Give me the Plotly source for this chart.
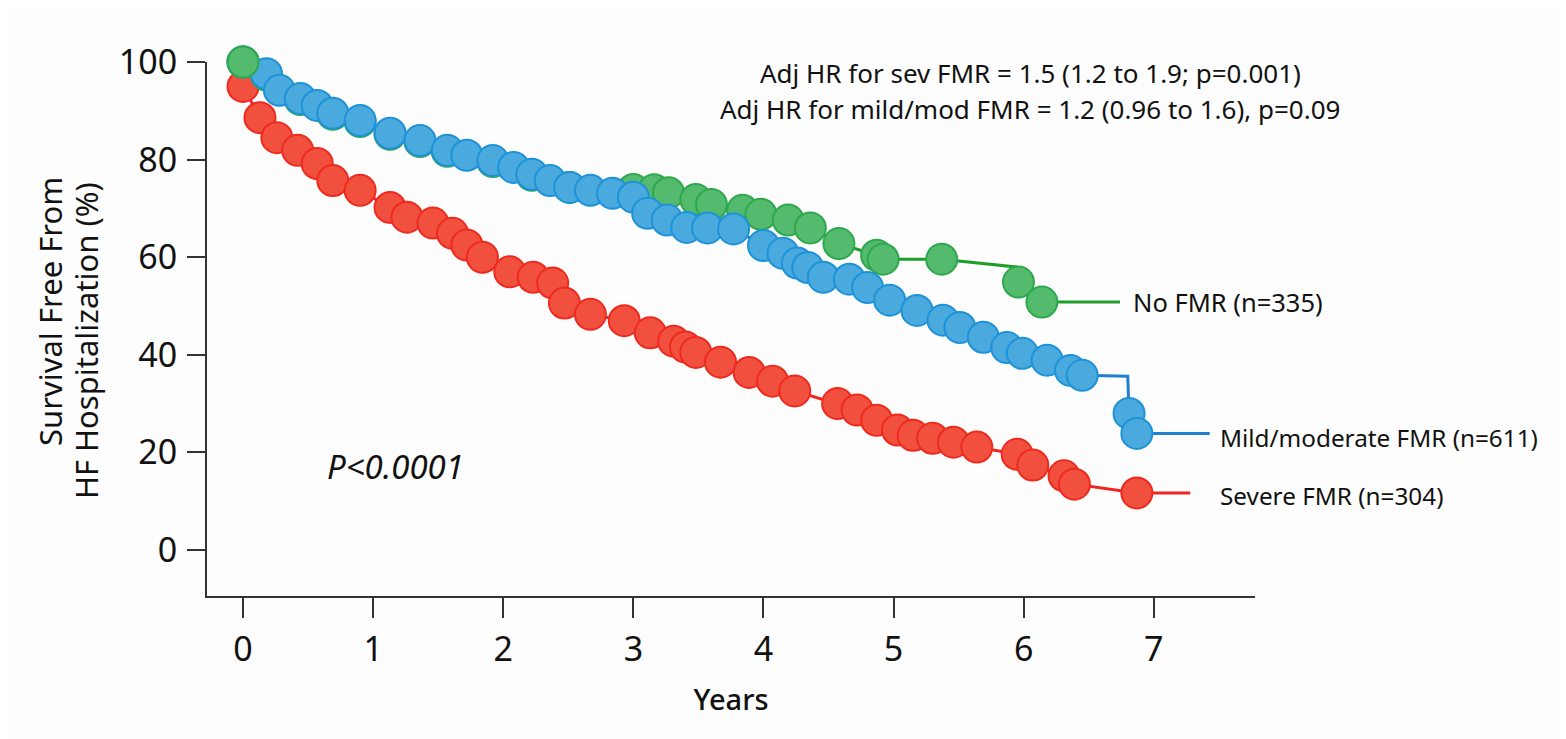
import plotly.graph_objects as go

# ---------------- data ----------------
x_ticks = [0, 1, 2, 3, 4, 5, 6, 7]
y_ticks = [0, 20, 40, 60, 80, 100]

# Severe FMR
sev_years = [0.00, 0.13, 0.26, 0.42, 0.57, 0.69, 0.90, 1.13, 1.26, 1.46, 1.61, 1.72, 1.84, 2.05,
             2.23, 2.38, 2.47, 2.67, 2.93, 3.13, 3.31, 3.40, 3.48, 3.67, 3.89, 4.07, 4.24, 4.57,
             4.72, 4.87, 5.03, 5.15, 5.30, 5.46, 5.64, 5.95, 6.07, 6.31, 6.39, 6.87, 7.28]
sev_surv = [95.0, 88.6, 84.5, 81.9, 79.2, 75.7, 73.7, 70.2, 68.2, 67.0, 64.9, 62.5, 60.0, 57.0,
            55.9, 54.7, 50.6, 48.3, 47.0, 44.5, 42.8, 41.6, 40.5, 38.5, 36.4, 34.6, 32.6, 30.0,
            28.7, 26.6, 24.6, 23.5, 22.9, 22.1, 21.1, 19.6, 17.4, 15.2, 13.5, 11.7, 11.7]
sev_mark = [1] * 40 + [0]

# Mild/moderate FMR
mild_years = [0.00, 0.18, 0.28, 0.44, 0.57, 0.69, 0.90, 1.13, 1.36, 1.57, 1.72, 1.92, 2.08, 2.22,
              2.36, 2.51, 2.67, 2.84, 3.00, 3.11, 3.26, 3.41, 3.57, 3.77, 4.00, 4.15, 4.26, 4.34,
              4.46, 4.66, 4.80, 4.97, 5.18, 5.38, 5.51, 5.69, 5.87, 5.99, 6.18, 6.36, 6.45, 6.80,
              6.81, 6.87, 7.43]
mild_surv = [100.0, 97.6, 94.2, 92.5, 91.1, 89.5, 88.0, 85.4, 83.9, 81.9, 80.9, 79.8, 78.4, 77.0,
             75.7, 74.3, 73.7, 73.1, 72.3, 69.0, 67.6, 66.1, 66.0, 65.8, 62.4, 60.8, 58.8, 57.9,
             55.9, 55.5, 53.8, 51.2, 49.1, 47.1, 45.6, 43.6, 41.5, 40.3, 38.9, 36.8, 35.8, 35.6,
             28.0, 23.9, 23.9]
mild_mark = [1] * 41 + [0, 1, 1, 0]

# No FMR
no_years = [0.00, 0.18, 0.44, 0.69, 0.90, 1.13, 1.36, 1.57, 1.92, 2.22, 2.51, 2.84, 3.00, 3.16,
            3.27, 3.48, 3.60, 3.84, 3.98, 4.19, 4.36, 4.58, 4.87, 4.92, 5.37, 5.94, 5.96, 6.14, 6.74]
no_surv = [100.0, 97.3, 92.3, 89.3, 87.8, 85.2, 83.7, 81.7, 79.6, 76.8, 74.3, 74.0, 73.9, 73.8,
           73.2, 71.8, 70.8, 69.6, 68.8, 67.6, 66.0, 62.8, 60.4, 59.6, 59.6, 58.0, 54.9, 50.8, 50.8]
no_mark = [1] * 11 + [0] + [1] * 13 + [0, 1, 1, 0]

labels = {
    "no": "No FMR (n=335)",
    "mild": "Mild/moderate FMR (n=611)",
    "sev": "Severe FMR (n=304)",
}
hr_lines = [
    "Adj HR for sev FMR = 1.5 (1.2 to 1.9; p=0.001)",
    "Adj HR for mild/mod FMR = 1.2 (0.96 to 1.6), p=0.09",
]
p_text = "P<0.0001"
x_title = "Years"
y_title = ["Survival Free From", "HF Hospitalization (%)"]

# ---------------- styling ----------------
FONT = "Noto Sans"
TXT = "#111111"
MSIZE = 31

styles = {
    "sev": dict(line="#EE2420", fill="#F2503F", edge="#EE2A1E"),
    "mild": dict(line="#1F80D2", fill="#4AAADD", edge="#1E92D8"),
    "no": dict(line="#1E9E28", fill="#54BA6E", edge="#2DA84C"),
}


def km_trace(xs, ys, marks, key, name):
    st = styles[key]
    return go.Scatter(
        x=xs, y=ys, mode="lines+markers", name=name,
        line=dict(color=st["line"], width=3),
        marker=dict(size=[MSIZE if m else 0 for m in marks], color=st["fill"],
                    line=dict(color=st["edge"], width=[2 if m else 0 for m in marks]),
                    opacity=1),
        cliponaxis=False, hoverinfo="skip", showlegend=False,
    )


fig = go.Figure()
fig.add_trace(km_trace(sev_years, sev_surv, sev_mark, "sev", labels["sev"]))
fig.add_trace(km_trace(no_years, no_surv, no_mark, "no", labels["no"]))
fig.add_trace(km_trace(mild_years, mild_surv, mild_mark, "mild", labels["mild"]))
# starting point of No FMR sits on top of the others
fig.add_trace(km_trace(no_years[:1], no_surv[:1], no_mark[:1], "no", labels["no"]))

# ---------------- layout (pixel geometry, page coords) ----------------
W, H = 1566, 739
OFF = 8                      # page body margin before the figure div
L, R, T, B = 207, 1255, 62, 596


def px(xp):
    return (xp - L) / (R - L)


def py(yp):
    return (B - yp) / (B - T)


axis_common = dict(showline=True, linecolor="#333333", linewidth=2, ticks="outside",
                   tickcolor="#333333", tickwidth=2, showgrid=False, zeroline=False,
                   tickfont=dict(family=FONT, size=34, color=TXT))

fig.update_layout(
    width=W - OFF, height=H - OFF,
    margin=dict(l=L - OFF, r=W - R, t=T - OFF, b=H - B),
    paper_bgcolor="#FDFDFD", plot_bgcolor="#FDFDFD",
    xaxis=dict(range=[-0.277, 7.778], tickvals=x_ticks, ticklen=20, ticklabelstandoff=2,
               title=dict(text=x_title, font=dict(family=FONT, size=29, color=TXT,
                                                  weight=500), standoff=20),
               **axis_common),
    yaxis=dict(range=[-9.42, 100], tickvals=y_ticks, ticklen=18, ticklabelstandoff=3,
               **axis_common),
)

ann = []
ann.append(dict(x=px(1030), y=py(73), text=hr_lines[0], xanchor="center", yanchor="middle",
                font=dict(family=FONT, size=26, color=TXT)))
ann.append(dict(x=px(1030), y=py(109), text=hr_lines[1], xanchor="center", yanchor="middle",
                font=dict(family=FONT, size=26, color=TXT)))
ann.append(dict(x=px(1131), y=py(302), text=labels["no"], xanchor="left", yanchor="middle",
                font=dict(family=FONT, size=25.5, color=TXT)))
ann.append(dict(x=px(1218), y=py(437), text=labels["mild"], xanchor="left", yanchor="middle",
                font=dict(family=FONT, size=24.3, color=TXT)))
ann.append(dict(x=px(1218), y=py(495), text=labels["sev"], xanchor="left", yanchor="middle",
                font=dict(family=FONT, size=24.3, color=TXT)))
ann.append(dict(x=px(325), y=py(466), text="<i>" + p_text + "</i>", xanchor="left",
                yanchor="middle", font=dict(family=FONT, size=33, color=TXT)))
ann.append(dict(x=px(50), y=py(312), text=y_title[0], textangle=-90,
                xanchor="center", yanchor="middle",
                font=dict(family=FONT, size=31, color=TXT)))
ann.append(dict(x=px(86), y=py(341), text=y_title[1], textangle=-90,
                xanchor="center", yanchor="middle",
                font=dict(family=FONT, size=31, color=TXT)))
for a in ann:
    a.update(xref="paper", yref="paper", showarrow=False)
fig.update_layout(annotations=ann)

fig.write_html("out.html")
